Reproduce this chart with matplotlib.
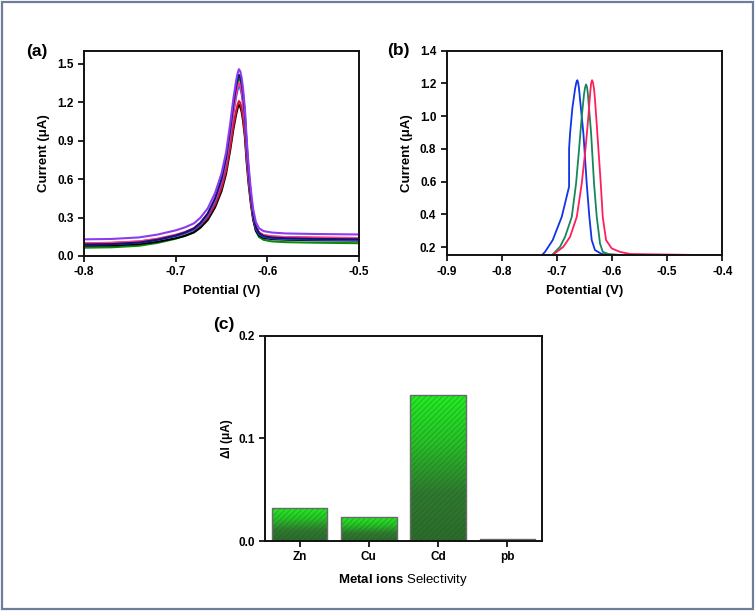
import numpy as np
import matplotlib
matplotlib.use('Agg')
import matplotlib.pyplot as plt
from matplotlib.patches import Rectangle
from matplotlib.colors import LinearSegmentedColormap

plt.rcParams['font.family'] = ['Liberation Sans', 'DejaVu Sans']
plt.rcParams['font.weight'] = 'bold'
plt.rcParams['mathtext.fontset'] = 'custom'
plt.rcParams['mathtext.bf'] = 'Liberation Sans:bold'
plt.rcParams['mathtext.rm'] = 'Liberation Sans'
plt.rcParams['hatch.linewidth'] = 0.6

# ---- panel (a) data: repeated DPV scans ----
pot_a = [-0.80, -0.77, -0.74, -0.72, -0.70, -0.69, -0.68, -0.673, -0.665, -0.657,
         -0.65, -0.645, -0.6405, -0.637, -0.634, -0.6325, -0.631, -0.6295, -0.628, -0.6265,
         -0.6245, -0.6225, -0.6205, -0.618, -0.6155, -0.6125, -0.609, -0.604, -0.595, -0.58,
         -0.55, -0.50]
cur_purple = [0.130, 0.133, 0.145, 0.167, 0.200, 0.223, 0.255, 0.299, 0.372, 0.492,
              0.644, 0.809, 1.033, 1.231, 1.370, 1.424, 1.458, 1.441, 1.390, 1.306,
              1.152, 0.906, 0.711, 0.516, 0.367, 0.264, 0.216, 0.194, 0.183, 0.176,
              0.172, 0.168]
cur_navy = [0.090, 0.093, 0.105, 0.127, 0.160, 0.183, 0.215, 0.259, 0.332, 0.451,
            0.602, 0.767, 0.990, 1.188, 1.326, 1.380, 1.414, 1.396, 1.346, 1.263,
            1.110, 0.865, 0.671, 0.476, 0.328, 0.225, 0.178, 0.155, 0.144, 0.138,
            0.134, 0.130]
cur_green = [0.065, 0.068, 0.080, 0.102, 0.135, 0.157, 0.189, 0.233, 0.306, 0.425,
             0.576, 0.741, 0.964, 1.161, 1.300, 1.354, 1.387, 1.369, 1.319, 1.235,
             1.082, 0.836, 0.642, 0.447, 0.299, 0.196, 0.148, 0.126, 0.114, 0.108,
             0.104, 0.100]
cur_pink = [0.100, 0.103, 0.114, 0.135, 0.166, 0.188, 0.218, 0.260, 0.328, 0.441,
            0.584, 0.739, 0.949, 1.136, 1.266, 1.317, 1.349, 1.333, 1.285, 1.207,
            1.063, 0.832, 0.649, 0.466, 0.326, 0.229, 0.185, 0.164, 0.154, 0.148,
            0.144, 0.140]
cur_blue = [0.090, 0.093, 0.104, 0.125, 0.155, 0.177, 0.207, 0.248, 0.316, 0.427,
            0.569, 0.723, 0.931, 1.116, 1.245, 1.296, 1.327, 1.311, 1.263, 1.186,
            1.042, 0.813, 0.631, 0.450, 0.310, 0.214, 0.170, 0.149, 0.139, 0.132,
            0.129, 0.125]
cur_red = [0.100, 0.102, 0.113, 0.132, 0.159, 0.178, 0.205, 0.242, 0.303, 0.403,
           0.530, 0.667, 0.854, 1.019, 1.135, 1.180, 1.209, 1.195, 1.153, 1.084,
           0.956, 0.752, 0.590, 0.429, 0.305, 0.219, 0.180, 0.161, 0.152, 0.147,
           0.143, 0.140]
cur_black = [0.080, 0.082, 0.093, 0.111, 0.139, 0.157, 0.184, 0.221, 0.281, 0.380,
             0.506, 0.642, 0.827, 0.991, 1.106, 1.151, 1.179, 1.165, 1.123, 1.055,
             0.929, 0.727, 0.566, 0.406, 0.283, 0.198, 0.159, 0.141, 0.132, 0.127,
             0.123, 0.120]

# ---- panel (b) data: peak shift ----
pot_b_blue = [-0.7276, -0.7216, -0.7077, -0.6913, -0.678, -0.678, -0.6762, -0.672, -0.667, -0.6645,
              -0.663, -0.6615, -0.660, -0.658, -0.652, -0.646, -0.6412, -0.6369, -0.631, -0.6187,
              -0.60, -0.40]
cur_b_blue = [0.150, 0.171, 0.243, 0.385, 0.569, 0.800, 0.895, 1.05, 1.17, 1.21,
              1.22, 1.205, 1.17, 1.099, 0.895, 0.589, 0.385, 0.243, 0.182, 0.158,
              0.152, 0.150]
pot_b_green = [-0.7094, -0.6944, -0.6853, -0.6731, -0.6653, -0.660, -0.655, -0.651, -0.649,
               -0.6472, -0.6455, -0.644, -0.643, -0.638, -0.6327, -0.6278, -0.6218, -0.6169,
               -0.6067, -0.58, -0.40]
cur_b_green = [0.150, 0.202, 0.263, 0.385, 0.589, 0.793, 0.997, 1.13, 1.175,
               1.194, 1.18, 1.14, 1.099, 0.895, 0.589, 0.385, 0.222, 0.171,
               0.158, 0.151, 0.150]
pot_b_red = [-0.7085, -0.6884, -0.6762, -0.664, -0.655, -0.6484, -0.643, -0.6395, -0.638,
             -0.6363, -0.6345, -0.6325, -0.6309, -0.6267, -0.6205, -0.6169, -0.6109, -0.6006,
             -0.5855, -0.567, -0.40]
cur_b_red = [0.150, 0.202, 0.263, 0.385, 0.589, 0.793, 0.997, 1.15, 1.20,
             1.22, 1.205, 1.16, 1.099, 0.895, 0.589, 0.385, 0.243, 0.192,
             0.171, 0.158, 0.150]

# ---- panel (c) data: selectivity ----
ions = ['Zn', 'Cu', 'Cd', 'pb']
delta_i = [0.032, 0.023, 0.1425, 0.0015]

fig = plt.figure(figsize=(7.56, 6.12), dpi=100)
fig.patches.append(Rectangle((0.003, 0.005), 0.993, 0.992, transform=fig.transFigure,
                             fill=False, edgecolor='#6f7d9c', linewidth=1.6))


def style_axes(ax):
    for sp in ax.spines.values():
        sp.set_linewidth(1.4)
        sp.set_color('#111111')
        sp.set_zorder(5)
    ax.tick_params(direction='out', length=4, width=1.2, labelsize=8.5)
    for lab in ax.get_xticklabels() + ax.get_yticklabels():
        lab.set_fontweight('bold')


# (a)
ax1 = fig.add_axes([0.1111, 0.5817, 0.3638, 0.335])
for y, c in [(cur_green, '#0a8a0a'), (cur_black, '#000000'), (cur_red, '#e4102a'),
             (cur_blue, '#2f55ff'), (cur_pink, '#ff3c8c'), (cur_navy, '#14146e'),
             (cur_purple, '#8a3cf2')]:
    ax1.plot(pot_a, y, color=c, lw=1.5, solid_joinstyle='round')
ax1.set_xlim(-0.8, -0.5)
ax1.set_ylim(0, 1.6)
ax1.set_xticks([-0.8, -0.7, -0.6, -0.5])
ax1.set_yticks([0.0, 0.3, 0.6, 0.9, 1.2, 1.5])
ax1.set_xticklabels(['-0.8', '-0.7', '-0.6', '-0.5'])
ax1.set_xlabel('Potential (V)', fontsize=9.5, fontweight='bold', labelpad=5)
ax1.set_ylabel('Current (μA)', fontsize=9.5, fontweight='bold', labelpad=5)
style_axes(ax1)
fig.text(0.034, 0.916, '(a)', fontsize=12.5, fontweight='bold', va='center')

# (b)
ax2 = fig.add_axes([0.5909, 0.5828, 0.3645, 0.3343])
ax2.plot(pot_b_blue, cur_b_blue, color='#1034e6', lw=1.3)
ax2.plot(pot_b_green, cur_b_green, color='#16875a', lw=1.3)
ax2.plot(pot_b_red, cur_b_red, color='#ff1f5c', lw=1.3)
ax2.set_xlim(-0.9, -0.4)
ax2.set_ylim(0.15, 1.4)
ax2.set_xticks([-0.9, -0.8, -0.7, -0.6, -0.5, -0.4])
ax2.set_xticklabels(['-0.9', '-0.8', '-0.7', '-0.6', '-0.5', '-0.4'])
ax2.set_yticks([0.2, 0.4, 0.6, 0.8, 1.0, 1.2, 1.4])
ax2.set_xlabel('Potential (V)', fontsize=9.5, fontweight='bold', labelpad=5)
ax2.set_ylabel('Current (μA)', fontsize=9.5, fontweight='bold', labelpad=5)
style_axes(ax2)
fig.text(0.512, 0.918, '(b)', fontsize=12.5, fontweight='bold', va='center')

# (c)
ax3 = fig.add_axes([0.3505, 0.1160, 0.3664, 0.335])
cmap = LinearSegmentedColormap.from_list('g', ['#2c6a2c', '#2f7a2f', '#27c027', '#22ee22'])
grad = np.linspace(0, 1, 256).reshape(-1, 1)
xpos = np.arange(len(ions))
bars = ax3.bar(xpos, delta_i, width=0.8, color='none', edgecolor='none')
for b in bars:
    x0, w, h = b.get_x(), b.get_width(), b.get_height()
    im = ax3.imshow(grad, cmap=cmap, origin='lower', aspect='auto',
                    extent=[x0, x0 + w, 0, h], zorder=2)
    im.set_clip_path(b)
ax3.bar(xpos, delta_i, width=0.8, color='none', edgecolor='#1f4f1f', hatch='//////',
        linewidth=0, zorder=3, alpha=0.35)
ax3.bar(xpos, delta_i, width=0.8, color='none', edgecolor='#6a6a6a', linewidth=1.0, zorder=4)
ax3.set_xlim(-0.5, 3.5)
ax3.set_ylim(0, 0.2)
ax3.set_xticks(xpos)
ax3.set_xticklabels(ions)
ax3.set_yticks([0.0, 0.1, 0.2])
ax3.set_xlabel(r'$\bf{Metal}$ $\bf{ions}$ Selectivity', fontsize=9.5, fontweight='normal', labelpad=6)
ax3.set_ylabel('ΔI (μA)', fontsize=8.5, fontweight='bold', labelpad=4)
style_axes(ax3)
fig.text(0.282, 0.469, '(c)', fontsize=12.5, fontweight='bold', va='center')

fig.savefig('out.png', dpi=100)
